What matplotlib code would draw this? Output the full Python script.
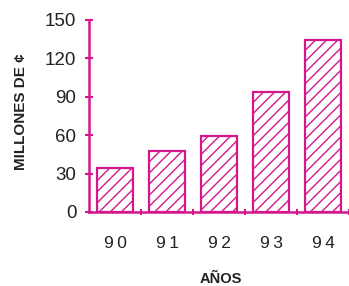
import numpy as np
import matplotlib.pyplot as plt

plt.rcParams['font.family'] = ['Liberation Sans', 'DejaVu Sans']
plt.rcParams['hatch.linewidth'] = 1.0

# data
years = ['90', '91', '92', '93', '94']
values = [34, 48, 59, 94, 134]
yticks = [0, 30, 60, 90, 120, 150]

magenta = '#d4188c'
plt.rcParams['hatch.color'] = magenta
text_col = '#222222'

fig = plt.figure(figsize=(3.49, 2.86), dpi=100)
ax = fig.add_axes([89 / 349, 1 - 212 / 286, 1 - 89 / 349, (212 - 20) / 286])

x = np.arange(len(years))
ax.bar(x, values, width=0.68, facecolor='white', edgecolor=magenta,
       linewidth=1.6, hatch='///')

ax.set_xlim(-0.5, 4.42)
ax.set_ylim(0, 150)
ax.set_yticks(yticks)
ax.set_yticklabels([str(v) for v in yticks], fontsize=13.5, color=text_col)

# x ticks sit between bars, labels under the bars
ax.set_xticks(x + 0.5)
ax.set_xticklabels([])
ax.set_xticks(x, minor=True)
ax.set_xticklabels(['\u2009'.join(y) for y in years], minor=True,
                   fontsize=12.5, color=text_col)
ax.tick_params(axis='x', which='minor', length=0, pad=17)
ax.tick_params(axis='x', which='major', direction='inout', length=5,
               width=1.5, color=magenta)
ax.tick_params(axis='y', direction='inout', length=6, width=1.5,
               color=magenta, pad=6)

for s in ['top', 'right']:
    ax.spines[s].set_visible(False)
for s in ['left', 'bottom']:
    ax.spines[s].set_color(magenta)
    ax.spines[s].set_linewidth(1.8)

ax.set_ylabel('MILLONES DE ¢', fontsize=11, fontweight='bold', color=text_col)
ax.set_xlabel('AÑOS', fontsize=10.5, fontweight='bold', color=text_col)
ax.xaxis.set_label_coords((2 + 0.5) / 4.92, -0.31)
ax.yaxis.set_label_coords(-0.235, 0.523)

fig.savefig('out.png', dpi=100)
